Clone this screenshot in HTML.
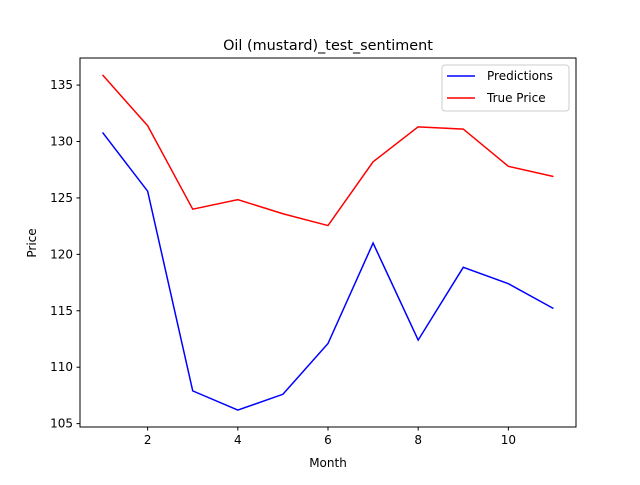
<!DOCTYPE html>
<html><head><meta charset="utf-8"><style>
body{margin:0;background:#fff;}
svg text{font-family:"DejaVu Sans","Liberation Sans",sans-serif;}
</style></head><body>
<svg id="chart" width="640" height="480"></svg>
<script>
const months=[1,2,3,4,5,6,7,8,9,10,11];
const predictions=[130.8,125.6,107.9,106.2,107.6,112.1,121.0,112.4,118.85,117.4,115.2];
const truePrice=[135.9,131.4,124.0,124.85,123.6,122.55,128.2,131.3,131.1,127.8,126.9];
const xTicks=[2,4,6,8,10];
const yTicks=[105,110,115,120,125,130,135];
const NS="http://www.w3.org/2000/svg";
const svg=document.getElementById('chart');
const L=80,R=576,T=58,B=427;
const xMin=0.5,xMax=11.5,yMin=104.7,yMax=137.4;
const sx=v=>L+(v-xMin)/(xMax-xMin)*(R-L);
const sy=v=>B-(v-yMin)/(yMax-yMin)*(B-T);
function mk(tag,attrs,txt){const e=document.createElementNS(NS,tag);for(const k in attrs)e.setAttribute(k,attrs[k]);if(txt!==undefined)e.textContent=txt;svg.appendChild(e);return e;}
let e;
e=mk('rect',{x:L,y:T,width:R-L,height:B-T,fill:'#fff',stroke:'#000','stroke-width':1});


xTicks.forEach(t=>{
 e=mk('line',{x1:sx(t),x2:sx(t),y1:B,y2:B+3.5,stroke:'#000'});
 
 
 e=mk('text',{x:sx(t),y:B+17,'font-size':12,'text-anchor':'middle'},t);
 
 
});
yTicks.forEach(t=>{
 e=mk('line',{x1:L-3.5,x2:L,y1:sy(t),y2:sy(t),stroke:'#000'});
 
 
 e=mk('text',{x:L-7,y:sy(t)+4,'font-size':12,'text-anchor':'end'},t);
 
 
});
function line(vals,color,name){
 const p=mk('polyline',{points:months.map((m,i)=>sx(m)+','+sy(vals[i])).join(' '),fill:'none',stroke:color,'stroke-width':1.5});
 
 
}
line(predictions,'#0000ff','predictions-line');
line(truePrice,'#ff0000','true-price-line');
e=mk('text',{x:328,y:50,'font-size':14.4,'text-anchor':'middle'},'Oil (mustard)_test_sentiment');


e=mk('text',{x:328,y:467,'font-size':12,'text-anchor':'middle'},'Month');


e=mk('text',{x:36,y:243,'font-size':12,'text-anchor':'middle',transform:'rotate(-90 36 243)'},'Price');


e=mk('rect',{x:442,y:65,width:127,height:46,fill:'#fff',stroke:'#ccc',rx:3});


e=mk('line',{x1:447,x2:475,y1:76,y2:76,stroke:'#0000ff','stroke-width':1.5});


e=mk('text',{x:487,y:80,'font-size':12},'Predictions');


e=mk('line',{x1:447,x2:475,y1:98,y2:98,stroke:'#ff0000','stroke-width':1.5});


e=mk('text',{x:487,y:102,'font-size':12},'True Price');


</script>
</body></html>
